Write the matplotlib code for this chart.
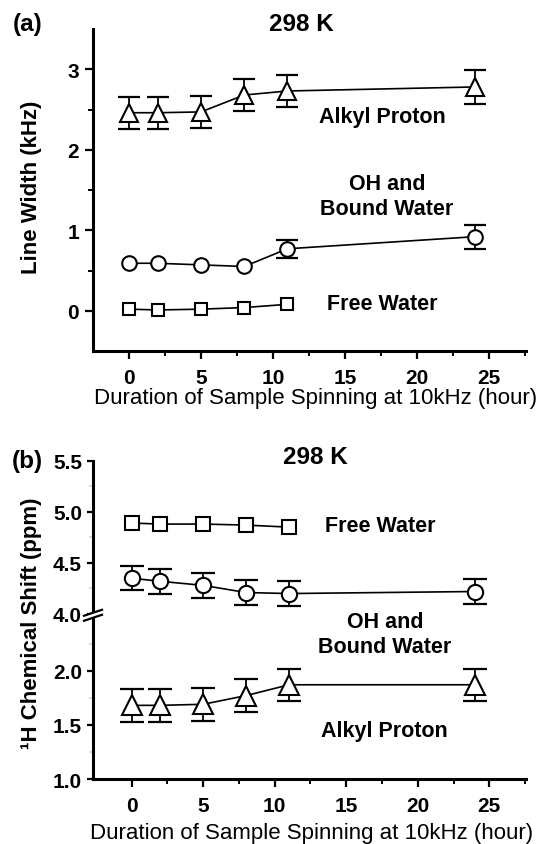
import numpy as np
import matplotlib
matplotlib.use("Agg")
import matplotlib.pyplot as plt
from matplotlib.ticker import FormatStrFormatter
from matplotlib.patches import Polygon
from matplotlib.lines import Line2D

plt.rcParams['font.family'] = ['Liberation Sans', 'DejaVu Sans']
plt.rcParams['font.weight'] = 'bold'

# spinning time (hour)
hours = [0, 2, 5, 8, 11, 24]
hours_free = [0, 2, 5, 8, 11]

# (a) line width, kHz
alkyl_lw = [2.46, 2.46, 2.47, 2.68, 2.73, 2.78]
alkyl_lw_err = [0.20, 0.20, 0.20, 0.20, 0.20, 0.21]
oh_lw = [0.59, 0.59, 0.57, 0.55, 0.77, 0.92]
oh_lw_err = [0.0, 0.0, 0.0, 0.0, 0.115, 0.15]
free_lw = [0.02, 0.01, 0.02, 0.04, 0.08]

# (b) chemical shift, ppm
free_cs = [4.89, 4.88, 4.88, 4.87, 4.85]
oh_cs = [4.35, 4.32, 4.28, 4.21, 4.20, 4.22]
oh_cs_err = [0.12, 0.12, 0.12, 0.12, 0.12, 0.12]
alkyl_cs = [1.68, 1.68, 1.69, 1.77, 1.87, 1.87]
alkyl_cs_err = [0.15, 0.15, 0.15, 0.15, 0.15, 0.15]

xlabel = 'Duration of Sample Spinning at 10kHz (hour)'
W, H = 538, 845
TICK_FS = 15
NOTE_FS = 15.5
HEAD_FS = 17.5


def series(ax, x, y, err, marker, ms, capsize=8):
    if err is not None:
        # only points with a visible error get a bar
        keep = [i for i, e in enumerate(err) if e > 0]
        ax.errorbar([x[i] for i in keep], [y[i] for i in keep],
                    yerr=[err[i] for i in keep], fmt='none', ecolor='k',
                    elinewidth=1.3, capsize=capsize, capthick=1.6, zorder=2)
    ax.plot(x, y, '-', color='k', lw=1.2, marker=marker, ms=ms,
            mfc='white', mec='k', mew=1.5, zorder=3)


def style(ax, bottom=True):
    for s in ['top', 'right']:
        ax.spines[s].set_visible(False)
    ax.spines['left'].set_linewidth(2.2)
    if bottom:
        ax.spines['bottom'].set_linewidth(2.2)
    else:
        ax.spines['bottom'].set_visible(False)
    ax.tick_params(which='major', direction='out', length=6, width=1.6,
                   labelsize=TICK_FS, pad=4)
    ax.tick_params(which='minor', direction='out', length=3.5, width=1.4)
    ax.tick_params(axis='x', pad=6)


fig = plt.figure(figsize=(W / 100, H / 100), dpi=100)

# ---------------- (a) ----------------
ax = fig.add_axes([0.1729, 0.5834, 0.8057, 0.3811])
series(ax, hours, alkyl_lw, alkyl_lw_err, '^', 12.5)
series(ax, hours, oh_lw, oh_lw_err, 'o', 10.5)
series(ax, hours_free, free_lw, None, 's', 9)
ax.set_xlim(-2.5, 27.6)
ax.set_ylim(-0.5, 3.5)
ax.set_xticks([0, 5, 10, 15, 20, 25])
ax.set_xticks(np.arange(2.5, 28, 5), minor=True)
ax.set_yticks([0, 1, 2, 3])
ax.set_yticks([0.5, 1.5, 2.5], minor=True)
style(ax)
ax.set_ylabel('Line Width (kHz)', fontsize=16, fontweight='bold')
ax.yaxis.set_label_coords(-0.118, 0.512)
ax.set_xlabel(xlabel, fontsize=16, fontweight='normal')
ax.xaxis.set_label_coords(0.514, -0.112)

ax.text(17.6, 2.41, 'Alkyl Proton', ha='center', va='center', fontsize=NOTE_FS)
ax.text(17.9, 1.43, 'OH and\nBound Water', ha='center', va='center',
        fontsize=NOTE_FS, linespacing=1.25)
ax.text(17.6, 0.09, 'Free Water', ha='center', va='center', fontsize=NOTE_FS)
fig.text(0.051, 0.971, '(a)', ha='center', va='center', fontsize=HEAD_FS)
fig.text(0.561, 0.971, '298 K', ha='center', va='center', fontsize=HEAD_FS)

# ---------------- (b) broken axis ----------------
ax_hi = fig.add_axes([0.1729, 0.2722, 0.8057, 0.1814])
ax_lo = fig.add_axes([0.1729, 0.0769, 0.8057, 0.1923])

series(ax_hi, hours_free, free_cs, None, 's', 9.5)
series(ax_hi, hours, oh_cs, oh_cs_err, 'o', 11, capsize=8.5)
series(ax_lo, hours, alkyl_cs, alkyl_cs_err, '^', 14, capsize=8.5)

for a in (ax_hi, ax_lo):
    a.set_xlim(-2.7, 27.6)
ax_hi.set_ylim(4.0, 5.5)
ax_lo.set_ylim(1.0, 2.5)
ax_hi.set_yticks([4.0, 4.5, 5.0, 5.5])
ax_hi.set_yticks([4.25, 4.75, 5.25], minor=True)
ax_lo.set_yticks([1.0, 1.5, 2.0])
ax_lo.set_yticks([1.25, 1.75, 2.25], minor=True)
ax_lo.set_xticks([0, 5, 10, 15, 20, 25])
ax_lo.set_xticks(np.arange(2.5, 28, 5), minor=True)
ax_hi.set_xticks([])
style(ax_hi, bottom=False)
style(ax_lo)
for a in (ax_hi, ax_lo):
    a.yaxis.set_major_formatter(FormatStrFormatter('%.1f'))
    a.tick_params(axis='y', which='major', length=4)
    a.tick_params(axis='y', which='minor', color='0.85', length=3)

ax_lo.set_xlabel(xlabel, fontsize=16)
ax_lo.xaxis.set_label_coords(0.505, -0.262)
fig.text(0.0585, 0.262, '\u00b9H Chemical Shift (ppm)', rotation=90,
         ha='center', va='center', fontsize=16)

ax_hi.text(17.4, 4.87, 'Free Water', ha='center', va='center', fontsize=NOTE_FS)
ax_lo.text(17.7, 2.34, 'OH and\nBound Water', ha='center', va='center',
           fontsize=NOTE_FS, linespacing=1.25)
ax_lo.text(17.7, 1.444, 'Alkyl Proton', ha='center', va='center',
           fontsize=NOTE_FS)
fig.text(0.051, 0.4536, '(b)', ha='center', va='center', fontsize=HEAD_FS)
fig.text(0.586, 0.459, '298 K', ha='center', va='center', fontsize=HEAD_FS)

# break marks on the left spine
x0 = ax_hi.get_position().x0
yb = 0.5 * (ax_hi.get_position().y0 + ax_lo.get_position().y1)
hx, dy, gap = 9 / W, 3 / H, 2.5 / H
poly = Polygon([(x0 - hx, yb - dy + gap), (x0 + hx, yb + dy + gap),
                (x0 + hx, yb + dy - gap), (x0 - hx, yb - dy - gap)],
               closed=True, transform=fig.transFigure, facecolor='white',
               edgecolor='none', zorder=10)
fig.add_artist(poly)
for s in (gap, -gap):
    fig.add_artist(Line2D([x0 - hx, x0 + hx], [yb - dy + s, yb + dy + s],
                          transform=fig.transFigure, color='k', lw=1.6,
                          zorder=11))

fig.savefig('out.png', dpi=100)
